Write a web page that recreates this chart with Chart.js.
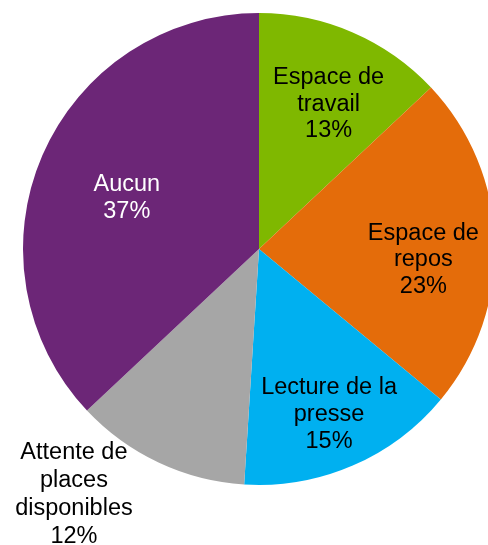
<!DOCTYPE html>
<html lang="fr">
<head>
    <meta charset="UTF-8">
    <title>Pie</title>
    <script src="https://cdn.jsdelivr.net/npm/chart.js"></script>
    <style>
        html, body {
            margin: 0;
            padding: 0;
            background: #fff;
            overflow: hidden;
        }
        .wrap {
            width: 488px;
            height: 545px;
            overflow: hidden;
        }
    </style>
</head>
<body>
    <div class="wrap">
        <canvas id="pie" width="518" height="545"></canvas>
    </div>

    <script>
        // Data
        const categories = [
            ['Espace de', 'travail'],
            ['Espace de', 'repos'],
            ['Lecture de la', 'presse'],
            ['Attente de', 'places', 'disponibles'],
            ['Aucun']
        ];
        const shares = [13, 23, 15, 12, 37];

        const sliceColors = ['#7fb800', '#e46c0a', '#00b0f0', '#a6a6a6', '#6c2677'];
        const textColors = ['#000', '#000', '#000', '#000', '#fff'];

        // label placement: radius fraction, angle nudge (deg), line gap (px)
        const labelRadius = [0.680, 0.698, 0.763, 1.303, 0.600];
        const labelNudge = [2.3, 5.6, 0.5, 11.8, -2.4];
        const labelGap = [26.5, 26.5, 27, 28, 26.5];

        const pieLabels = {
            id: 'pieLabels',
            afterDatasetsDraw(chart) {
                const ctx = chart.ctx;
                const meta = chart.getDatasetMeta(0);
                ctx.save();
                ctx.font = '23.5px "Liberation Sans", Arial, sans-serif';
                ctx.textAlign = 'center';
                ctx.textBaseline = 'middle';
                meta.data.forEach((arc, i) => {
                    const mid = (arc.startAngle + arc.endAngle) / 2 + labelNudge[i] * Math.PI / 180;
                    const r = arc.outerRadius * labelRadius[i];
                    const cx = arc.x + Math.cos(mid) * r;
                    const cy = arc.y + Math.sin(mid) * r;
                    const lines = categories[i].concat([shares[i] + '%']);
                    const lh = labelGap[i];
                    const top = cy - (lines.length - 1) * lh / 2;
                    ctx.fillStyle = textColors[i];
                    lines.forEach((t, k) => ctx.fillText(t, cx, top + k * lh));
                });
                ctx.restore();
            }
        };

        new Chart(document.getElementById('pie'), {
            type: 'pie',
            data: {
                labels: categories,
                datasets: [{
                    data: shares,
                    backgroundColor: sliceColors,
                    borderWidth: 0
                }]
            },
            options: {
                responsive: false,
                animation: false,
                layout: { padding: { top: 13, bottom: 60, left: 0, right: 0 } },
                plugins: {
                    legend: { display: false },
                    tooltip: { enabled: false }
                }
            },
            plugins: [pieLabels]
        });
    </script>
</body>
</html>
